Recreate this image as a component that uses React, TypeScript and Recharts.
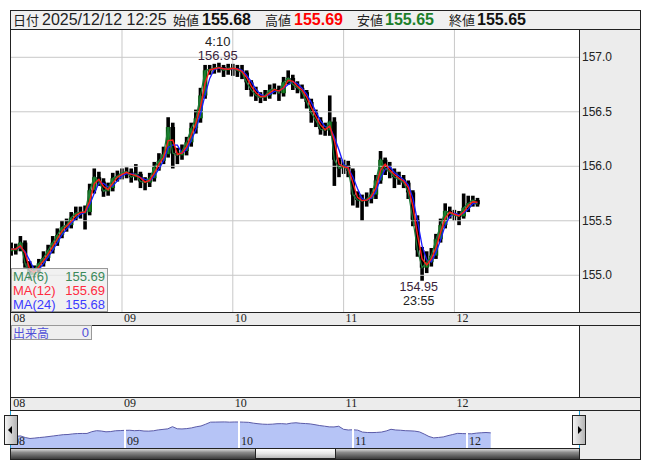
import React from 'react';
import { ComposedChart, Bar, Line, Scatter, XAxis, YAxis, ReferenceLine, AreaChart, Area } from 'recharts';

// ---------- data ----------
const dayLabels = ['08', '09', '10', '11', '12'];
const dayStartHours = [0, 24, 48, 72, 96];
const priceTicks = [155.0, 155.5, 156.0, 156.5, 157.0];

const firstOpen = 155.22;
const closes = [
  155.24, 155.24, 155.30, 155.11, 155.00, 155.05, 155.11, 155.16, 155.23, 155.30, 155.37, 155.44,
  155.46, 155.53, 155.57, 155.58, 155.58, 155.78, 155.90, 155.86, 155.77, 155.80, 155.89, 155.91,
  155.94, 155.95, 155.90, 155.93, 155.86, 155.85, 155.89, 155.99, 156.05, 156.11, 156.36, 156.12,
  156.10, 156.14, 156.22, 156.35, 156.44, 156.65, 156.88, 156.89, 156.90, 156.91, 156.88, 156.90,
  156.90, 156.88, 156.86, 156.77, 156.70, 156.65, 156.63, 156.65, 156.70, 156.71, 156.67, 156.77,
  156.81, 156.75, 156.72, 156.68, 156.59, 156.49, 156.42, 156.34, 156.33, 156.41, 156.06, 155.98,
  156.01, 155.96, 155.74, 155.69, 155.68, 155.70, 155.74, 155.87, 156.06, 155.98, 155.95, 155.90,
  155.88, 155.85, 155.76, 155.51, 155.23, 155.07, 155.12, 155.18, 155.33, 155.46, 155.59, 155.57,
  155.55, 155.54, 155.62, 155.66, 155.69, 155.65,
];
const highs = [
  155.30, 155.29, 155.36, 155.32, 155.13, 155.09, 155.15, 155.22, 155.28, 155.36, 155.43, 155.50,
  155.52, 155.58, 155.63, 155.63, 155.64, 155.84, 155.98, 155.95, 155.89, 155.85, 155.94, 155.96,
  155.98, 155.99, 155.98, 156.02, 155.95, 155.90, 155.94, 156.04, 156.12, 156.18, 156.45, 156.40,
  156.17, 156.20, 156.27, 156.40, 156.52, 156.72, 156.93, 156.93, 156.94, 156.95, 156.93, 156.94,
  156.94, 156.93, 156.93, 156.88, 156.79, 156.73, 156.68, 156.70, 156.75, 156.76, 156.74, 156.82,
  156.88, 156.84, 156.78, 156.75, 156.70, 156.62, 156.52, 156.45, 156.40, 156.65, 156.45, 156.08,
  156.06, 156.05, 155.98, 155.77, 155.74, 155.76, 155.80, 155.92, 156.14, 156.08, 156.04, 155.98,
  155.95, 155.92, 155.87, 155.78, 155.55, 155.26, 155.22, 155.25, 155.38, 155.52, 155.66, 155.63,
  155.60, 155.59, 155.75, 155.73, 155.73, 155.71,
];
const lows = [
  155.18, 155.19, 155.22, 155.07, 154.96, 154.98, 155.02, 155.08, 155.13, 155.20, 155.27, 155.34,
  155.40, 155.43, 155.50, 155.52, 155.42, 155.55, 155.75, 155.82, 155.72, 155.73, 155.77, 155.86,
  155.88, 155.89, 155.85, 155.87, 155.80, 155.78, 155.81, 155.86, 155.96, 156.02, 156.08, 155.98,
  156.02, 156.06, 156.10, 156.18, 156.30, 156.40, 156.62, 156.84, 156.85, 156.86, 156.82, 156.84,
  156.83, 156.82, 156.80, 156.70, 156.64, 156.60, 156.58, 156.60, 156.62, 156.66, 156.60, 156.64,
  156.75, 156.70, 156.67, 156.62, 156.53, 156.40, 156.36, 156.29, 156.28, 156.28, 155.82, 155.90,
  155.93, 155.90, 155.64, 155.62, 155.50, 155.63, 155.66, 155.70, 155.84, 155.92, 155.89, 155.80,
  155.83, 155.80, 155.70, 155.45, 155.17, 154.95, 155.02, 155.08, 155.15, 155.30, 155.43, 155.52,
  155.50, 155.46, 155.52, 155.58, 155.63, 155.63,
];

const maLegendNames = ['MA(6)', 'MA(12)', 'MA(24)'];
const maLegendValues = ['155.69', '155.69', '155.68'];
const headerDateLabel = '日付';
const headerDate = '2025/12/12 12:25';
const ohlcLabels = ['始値', '高値', '安値', '終値'];
const ohlcValues = ['155.68', '155.69', '155.65', '155.65'];
const volumeLabel = '出来高';
const volumeValue = '0';
const extremeMarks = [
  { t: 45.17, p: 156.95, time: '4:10', side: 'above' },
  { t: 88.92, p: 154.95, time: '23:55', side: 'below' },
];

// ---------- derived ----------
function sma(vals: number[], n: number) {
  return vals.map((_, i) => {
    const s = vals.slice(Math.max(0, i - n + 1), i + 1);
    return s.reduce((a, b) => a + b, 0) / s.length;
  });
}
const ma12 = sma(closes, 2);
const ma24 = sma(closes, 3);
const rows = closes.map((c, i) => ({
  t: i,
  open: i === 0 ? firstOpen : closes[i - 1],
  close: c,
  high: highs[i],
  low: lows[i],
  range: [lows[i], highs[i]],
  ma6: c,
  ma12: ma12[i],
  ma24: ma24[i],
}));

// ---------- style ----------
const SANS = '"Liberation Sans", Arial, sans-serif';
const SERIF = '"Liberation Serif", "Times New Roman", serif';
const JP = '"Noto Sans CJK JP", "Liberation Sans", sans-serif';
const GRID = '#c8c8c8';
const PANEL = '#ececec';
const LINE = '#222';
const MA_COLORS = ['#1f7a3a', '#ff1a1a', '#1a1aff'];
const LEGEND_COLORS = ['#3a8a5a', '#ff2a40', '#3c3cff'];

const Candle = (props: any) => {
  const { x, y, width, height, payload } = props;
  if (x == null || !payload) return null;
  const top = Math.min(y, y + height);
  const h = Math.abs(height);
  const { open, close, high, low } = payload;
  const range = high - low || 0.0001;
  const py = (p: number) => top + ((high - p) / range) * h;
  const cx = x + width / 2;
  const bTop = py(Math.max(open, close));
  const bBot = py(Math.min(open, close));
  const up = close >= open;
  return (
    <g>
      <rect x={cx - 1.8} y={top} width={3.6} height={Math.max(1, h)} fill="#000" />
      <rect x={cx - 2.3} y={bTop} width={4.6} height={Math.max(1.5, bBot - bTop)} fill={up ? '#0b5e12' : '#000'} />
      {up && <rect x={cx - 0.8} y={bTop + 0.5} width={1.6} height={Math.max(0.5, bBot - bTop - 1)} fill="#1a8a2a" />}
    </g>
  );
};

const MarkShape = (props: any) => {
  const { cx, cy, payload } = props;
  if (cx == null) return null;
  const price = payload.p.toFixed(2);
  if (payload.side === 'above') {
    return (
      <g fontFamily={SANS} fontSize={13} textAnchor="middle">
        <text x={cx - 2} y={cy - 17} fill="#222">{payload.time}</text>
        <text x={cx - 2} y={cy - 3} fill="#3b1f3b">{price}</text>
      </g>
    );
  }
  return (
    <g fontFamily={SANS} fontSize={12.5} textAnchor="middle">
      <text x={cx - 3} y={cy + 10} fill="#3b1f3b">{price}</text>
      <text x={cx - 3} y={cy + 24} fill="#222">{payload.time}</text>
    </g>
  );
};

const PriceTick = (props: any) => {
  const { x, y, payload } = props;
  return (
    <text x={x} y={y + 4} fontFamily={SANS} fontSize={12} fill="#222" textAnchor="start">
      {Number(payload.value).toFixed(1)}
    </text>
  );
};

const DayTick = (props: any) => {
  const { x, y, payload } = props;
  const idx = dayStartHours.indexOf(payload.value);
  return (
    <text x={x + 2} y={y + 10} fontFamily={SERIF} fontSize={12} fill="#222" textAnchor="start">
      {dayLabels[idx]}
    </text>
  );
};

const NavLabel = (label: string) => (props: any) => {
  const vb = props.viewBox || {};
  return (
    <text x={(vb.x || 0) + 2} y={(vb.y || 0) + (vb.height || 0) - 3} fontFamily={SERIF} fontSize={12} fill="#222">
      {label}
    </text>
  );
};

const abs = (left: number, top: number, width: number, height: number, extra: any = {}) => ({
  position: 'absolute' as const, left, top, width, height, boxSizing: 'border-box' as const, ...extra,
});

export default function App() {
  const headerLefts = [173, 265, 357, 449];
  const valueLefts = [202, 294, 385, 477];
  const valueColors = ['#111', '#ff0000', '#1c7f2a', '#111'];
  return (
    <div style={{ position: 'absolute', left: 0, top: 0, width: 653, height: 470, background: '#fff', overflow: 'hidden' }}>
      {/* frame */}
      <div style={abs(10, 10, 631, 450, { border: `1px solid ${LINE}`, background: '#fff' })} />
      {/* header */}
      <div style={abs(11, 11, 629, 19, { background: '#f0f0f0', borderBottom: `1px solid ${LINE}` })} />
      <span style={abs(13, 11, 27, 18, { fontFamily: JP, fontSize: 13, lineHeight: '18px', color: '#222', whiteSpace: 'nowrap' })}>{headerDateLabel}</span>
      <span style={abs(42, 11, 128, 18, { fontFamily: SANS, fontSize: 16, lineHeight: '18px', color: '#222', whiteSpace: 'nowrap' })}>{headerDate}</span>
      {ohlcLabels.map((l, i) => (
        <span key={l} style={abs(headerLefts[i], 11, 27, 18, { fontFamily: JP, fontSize: 13, lineHeight: '18px', color: '#222', whiteSpace: 'nowrap' })}>{l}</span>
      ))}
      {ohlcValues.map((v, i) => (
        <span key={i} style={abs(valueLefts[i], 11, 60, 18, { fontFamily: SANS, fontSize: 16, fontWeight: 'bold', lineHeight: '18px', color: valueColors[i], whiteSpace: 'nowrap' })}>{v}</span>
      ))}

      {/* right gray column of price panel */}
      <div style={abs(579, 30, 61, 282, { background: PANEL, borderLeft: `1px solid ${LINE}` })} />
      {/* time band 1 */}
      <div style={abs(11, 312, 629, 14, { background: PANEL, borderTop: `1px solid ${LINE}`, borderBottom: `1px solid ${LINE}` })} />
      {/* volume panel right column */}
      <div style={abs(579, 326, 61, 71, { background: PANEL, borderLeft: `1px solid ${LINE}` })} />
      {/* time band 2 */}
      <div style={abs(11, 397, 629, 14, { background: PANEL, borderTop: `1px solid ${LINE}`, borderBottom: `1px solid ${LINE}` })} />
      {/* navigator right column */}
      <div style={abs(580, 411, 60, 48, { background: PANEL })} />

      {/* main price chart */}
      <div style={abs(11, 30, 629, 295)}>
        <ComposedChart width={629} height={295} data={rows} margin={{ top: 0, right: 0, bottom: 0, left: 0 }}>
          <XAxis
            type="number" dataKey="t" domain={[-0.04, 122.98]} allowDataOverflow
            ticks={dayStartHours} tick={<DayTick />} tickLine={false} axisLine={false} height={13} interval={0}
            tickSize={0} tickMargin={0}
          />
          <YAxis
            yAxisId="p" orientation="right" type="number" domain={[154.663, 157.2505]} allowDataOverflow
            ticks={priceTicks} tick={<PriceTick />} tickLine={false} axisLine={false} width={61} tickSize={0} tickMargin={3}
          />
          {priceTicks.map((p) => (
            <ReferenceLine key={p} yAxisId="p" y={p} stroke={GRID} strokeWidth={1} />
          ))}
          {dayStartHours.slice(1).map((h) => (
            <ReferenceLine key={h} yAxisId="p" x={h} stroke={GRID} strokeWidth={1} />
          ))}
          <Bar yAxisId="p" dataKey="range" barSize={4} shape={<Candle />} isAnimationActive={false} />
          <Line yAxisId="p" dataKey="ma24" stroke={MA_COLORS[2]} strokeWidth={1.3} dot={false} isAnimationActive={false} />
          <Line yAxisId="p" dataKey="ma6" stroke={MA_COLORS[0]} strokeWidth={1.2} dot={false} isAnimationActive={false} />
          <Line yAxisId="p" dataKey="ma12" stroke={MA_COLORS[1]} strokeWidth={1.4} dot={false} isAnimationActive={false} />
          <Scatter yAxisId="p" data={extremeMarks} dataKey="p" shape={<MarkShape />} isAnimationActive={false} />
        </ComposedChart>
      </div>

      {/* volume panel chart (empty volume) */}
      <div style={abs(11, 326, 568, 84)}>
        <ComposedChart width={568} height={84} data={rows} margin={{ top: 0, right: 0, bottom: 0, left: 0 }}>
          <XAxis
            type="number" dataKey="t" domain={[-0.04, 122.98]} allowDataOverflow
            ticks={dayStartHours} tick={<DayTick />} tickLine={false} axisLine={false} height={13} interval={0}
            tickSize={0} tickMargin={0}
          />
          <YAxis hide domain={[0, 1]} />
          {dayStartHours.slice(1).map((h) => (
            <ReferenceLine key={h} x={h} stroke={GRID} strokeWidth={1} />
          ))}
        </ComposedChart>
      </div>

      {/* MA legend box */}
      <div style={abs(11, 268, 97, 44, { background: 'rgba(236,236,236,0.75)', border: '1px solid #999' })}>
        {maLegendNames.map((n, i) => (
          <div key={n} style={{ position: 'absolute', left: 1, top: 1 + i * 14, width: 93, height: 14, fontFamily: SANS, fontSize: 13, lineHeight: '14px', color: LEGEND_COLORS[i] }}>
            <span>{n}</span>
            <span style={{ position: 'absolute', right: 1, top: 0 }}>{maLegendValues[i]}</span>
          </div>
        ))}
      </div>
      {/* volume legend box */}
      <div style={abs(11, 325, 81, 15, { background: '#efefef', border: '1px solid #999' })}>
        <span style={{ position: 'absolute', left: 1, top: 0, fontFamily: JP, fontSize: 12, lineHeight: '13px', color: '#5050d8' }}>{volumeLabel}</span>
        <span style={{ position: 'absolute', right: 2, top: 0, fontFamily: SANS, fontSize: 13, lineHeight: '13px', color: '#5050d8' }}>{volumeValue}</span>
      </div>

      {/* navigator */}
      <div style={abs(11, 411, 568, 37)}>
        <AreaChart width={568} height={37} data={rows} margin={{ top: 0, right: 0, bottom: 0, left: 0 }}>
          <XAxis hide type="number" dataKey="t" domain={[0, 119.58]} allowDataOverflow />
          <YAxis hide type="number" domain={[153.906, 158.166]} allowDataOverflow />
          <Area dataKey="close" stroke="#5b5ba8" strokeWidth={1} fill="#b6c4f6" fillOpacity={1} isAnimationActive={false} />
          {dayStartHours.map((h, i) => (
            <ReferenceLine key={h} x={h} stroke={i === 0 ? 'none' : '#ffffff'} strokeWidth={2} label={NavLabel(dayLabels[i])} />
          ))}
        </AreaChart>
      </div>
      {/* selection edges */}
      <div style={abs(10, 411, 1, 37, { background: '#1ea0d8' })} />
      <div style={abs(579, 411, 1, 37, { background: '#1ea0d8' })} />
      {/* scrollbar */}
      <div style={abs(11, 448, 569, 11, { borderTop: `1px solid ${LINE}`, borderRight: `1px solid ${LINE}`, background: 'linear-gradient(to bottom, #d8d8d8 0%, #8a8a8a 35%, #3a3a3a 100%)' })} />
      <div style={abs(255, 448, 81, 11, { border: `1px solid ${LINE}`, background: 'linear-gradient(to bottom, #ffffff 0%, #e6e6e6 50%, #b8b8b8 100%)' })} />
      {/* handles */}
      <div style={abs(4, 415, 14, 30, { border: `1px solid ${LINE}`, background: 'linear-gradient(to right, #f4f4f4, #b4b4b4)' })}>
        <div style={{ position: 'absolute', left: 3, top: 10, width: 0, height: 0, borderTop: '4px solid transparent', borderBottom: '4px solid transparent', borderRight: '4px solid #000' }} />
      </div>
      <div style={abs(572, 415, 14, 30, { border: `1px solid ${LINE}`, background: 'linear-gradient(to right, #f4f4f4, #b4b4b4)' })}>
        <div style={{ position: 'absolute', left: 5, top: 10, width: 0, height: 0, borderTop: '4px solid transparent', borderBottom: '4px solid transparent', borderLeft: '4px solid #000' }} />
      </div>
    </div>
  );
}
